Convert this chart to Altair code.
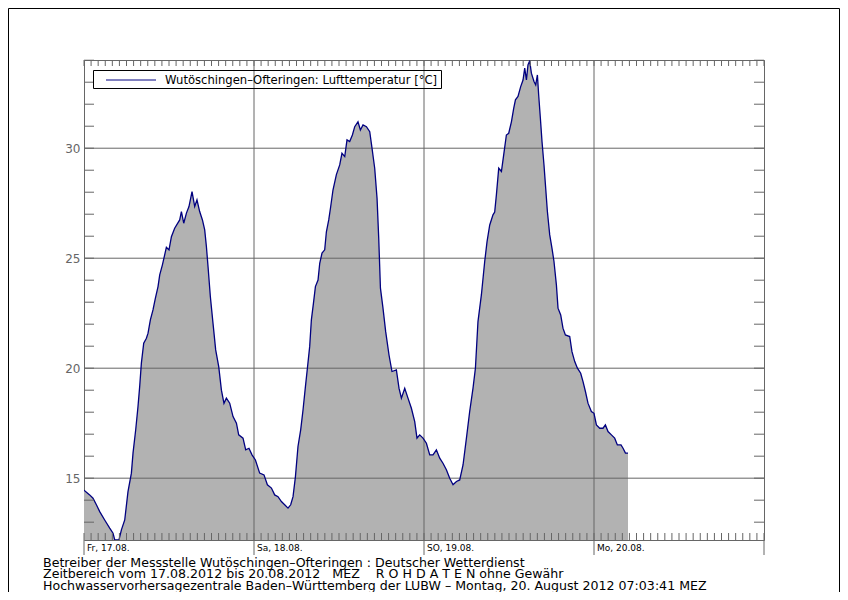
import altair as alt
import pandas as pd

# ---- data (hours since Fri 17.08.2012 00:00, air temperature in °C) ----
hours = [0.00, 0.80, 1.27, 1.75, 2.22, 2.92, 3.63, 4.10, 4.33, 4.94, 5.28, 5.75, 6.21, 6.69,
         6.92, 7.30, 7.62, 7.86, 8.10, 8.43, 8.81, 9.04, 9.37, 9.74, 10.08, 10.45, 10.69,
         11.07, 11.39, 11.63, 12.00, 12.34, 12.80, 13.51, 13.75, 14.08, 14.46, 14.82, 15.25,
         15.63, 15.95, 16.33, 16.72, 17.04, 17.28, 17.51, 17.84, 18.21, 18.59, 19.02, 19.40,
         19.76, 20.10, 20.57, 21.04, 21.52, 21.84, 22.45, 22.83, 23.29, 23.72, 24.20, 24.80,
         25.41, 25.89, 26.46, 26.92, 27.39, 27.87, 28.33, 28.80, 29.18, 29.51, 29.85, 30.21,
         30.59, 30.92, 31.26, 31.54, 31.86, 32.10, 32.39, 32.67, 33.04, 33.28, 33.60, 33.98,
         34.22, 34.55, 34.83, 35.15, 35.63, 36.10, 36.42, 36.81, 37.13, 37.51, 37.89, 38.22,
         38.68, 39.02, 39.39, 39.87, 40.34, 40.66, 41.04, 41.37, 41.61, 41.85, 42.21, 42.59,
         43.06, 43.48, 44.10, 44.47, 44.81, 45.28, 45.74, 46.22, 46.69, 47.01, 47.39, 47.86,
         48.34, 48.81, 49.27, 49.75, 50.22, 50.68, 51.16, 51.63, 52.10, 52.58, 53.04, 53.51,
         53.99, 54.45, 54.92, 55.26, 55.62, 56.10, 56.57, 56.90, 57.28, 57.74, 57.98, 58.22,
         58.55, 58.93, 59.25, 59.63, 59.96, 60.34, 60.67, 60.91, 61.27, 61.65, 61.98, 62.22,
         62.46, 62.68, 62.92, 63.16, 63.53, 63.77, 64.01, 64.19, 64.43, 64.66, 64.94, 65.18,
         65.42, 65.75, 66.07, 66.35, 66.69, 66.92, 67.30, 67.62, 67.96, 68.57, 68.89, 69.28,
         69.66, 70.12, 70.45, 70.79, 71.15, 71.63, 72.00, 72.34, 72.81, 73.27, 73.61, 73.98,
         74.46, 74.92, 75.30, 75.81, 76.10, 76.44, 76.80]
temps = [14.45, 14.24, 14.09, 13.79, 13.48, 13.10, 12.73, 12.50, 12.20, 12.20, 12.65, 13.10,
         14.39, 15.23, 16.14, 17.20, 18.25, 19.16, 20.23, 21.14, 21.36, 21.59, 22.20, 22.65,
         23.18, 23.71, 24.24, 24.70, 25.15, 25.50, 25.38, 25.98, 26.36, 26.74, 27.12, 26.59,
         27.05, 27.35, 28.03, 27.35, 27.65, 27.12, 26.74, 26.29, 25.53, 24.62, 23.25, 22.05,
         20.83, 20.07, 19.00, 18.40, 18.64, 18.41, 17.80, 17.50, 16.97, 16.82, 16.29, 16.36,
         16.06, 15.83, 15.23, 15.15, 14.70, 14.55, 14.24, 14.16, 13.94, 13.79, 13.64, 13.79,
         14.16, 15.07, 16.44, 17.20, 18.10, 19.16, 20.00, 20.98, 22.20, 22.95, 23.71, 24.01,
         24.77, 25.23, 25.38, 26.20, 26.74, 27.35, 28.10, 28.80, 29.24, 29.77, 29.62, 30.38,
         30.30, 30.60, 30.98, 31.20, 30.83, 31.06, 30.98, 30.75, 30.00, 29.09, 27.73, 25.90,
         23.64, 22.73, 21.66, 20.60, 19.85, 19.92, 19.09, 18.64, 19.09, 18.64, 18.18, 17.57,
         16.82, 16.97, 16.82, 16.59, 16.06, 16.06, 16.29, 15.91, 15.68, 15.38, 15.00, 14.70,
         14.85, 14.92, 15.60, 16.82, 18.03, 19.09, 20.00, 22.12, 23.33, 24.85, 25.75, 26.51,
         26.97, 27.10, 27.88, 29.09, 28.94, 29.70, 30.60, 30.68, 31.20, 31.82, 32.20, 32.35,
         32.80, 33.10, 33.64, 33.10, 33.79, 33.97, 33.41, 33.03, 32.88, 33.33, 32.42, 31.36,
         30.30, 29.24, 28.18, 27.12, 26.06, 25.45, 24.85, 23.79, 22.73, 22.42, 21.82, 21.51,
         21.44, 20.75, 20.30, 20.00, 19.77, 19.39, 18.94, 18.41, 18.03, 17.95, 17.42, 17.27,
         17.27, 17.42, 17.12, 16.97, 16.82, 16.51, 16.51, 16.36, 16.14, 16.14]

series_name = "Wutöschingen–Ofteringen: Lufttemperatur [°C]"
day_starts = [0, 24, 48, 72]
day_labels = ["Fr, 17.08.", "Sa, 18.08.", "SO, 19.08.", "Mo, 20.08."]
day_bounds = [0, 24, 48, 72, 96]
y_labels = [15, 20, 25, 30]
y_minor = list(range(13, 35))
hour_ticks = list(range(0, 97))
footer_lines = [
    "Betreiber der Messstelle Wutöschingen–Ofteringen : Deutscher Wetterdienst",
    "Zeitbereich vom 17.08.2012 bis 20.08.2012\u00a0\u00a0\u00a0MEZ\u00a0\u00a0\u00a0\u00a0R O H D A T E N ohne Gewähr",
    "Hochwasservorhersagezentrale Baden–Württemberg der LUBW – Montag, 20. August 2012 07:03:41 MEZ",
]

FONT = "DejaVu Sans"
GRID = "#666666"

df = pd.DataFrame({"h": hours, "t": temps})
X = alt.Scale(domain=[0, 96], nice=False, zero=False)
Y = alt.Scale(domain=[12.19, 34.01], nice=False, zero=False)

area = alt.Chart(df).mark_area(color="#b2b2b2", clip=True).encode(
    x=alt.X("h:Q", scale=X, axis=None),
    y=alt.Y("t:Q", scale=Y, axis=alt.Axis(values=y_labels, ticks=False, domain=False, grid=False,
                                          labelColor="#666666", labelFontSize=12, labelFont=FONT,
                                          labelPadding=4, title=None)),
)

hgrid = alt.Chart(pd.DataFrame({"v": y_labels})).mark_rule(color=GRID, strokeWidth=1).encode(
    y=alt.Y("v:Q", scale=Y))
vgrid = alt.Chart(pd.DataFrame({"d": day_starts[1:]})).mark_rule(color=GRID, strokeWidth=1).encode(
    x=alt.X("d:Q", scale=X))

line = alt.Chart(df).mark_line(strokeWidth=1.3, clip=True, color="#000080").encode(
    x=alt.X("h:Q", scale=X),
    y=alt.Y("t:Q", scale=Y),
)

hticks = pd.DataFrame({"h": hour_ticks})
top_ticks = alt.Chart(hticks).mark_rule(color=GRID).encode(
    x=alt.X("h:Q", scale=X), y=alt.value(0), y2=alt.value(6))
bot_ticks = alt.Chart(hticks).mark_rule(color=GRID).encode(
    x=alt.X("h:Q", scale=X), y=alt.value(473), y2=alt.value(480))
yticks = pd.DataFrame({"v": y_minor})
left_ticks = alt.Chart(yticks).mark_rule(color=GRID).encode(
    y=alt.Y("v:Q", scale=Y), x=alt.value(0), x2=alt.value(10))
right_ticks = alt.Chart(yticks).mark_rule(color=GRID).encode(
    y=alt.Y("v:Q", scale=Y), x=alt.value(670), x2=alt.value(680))

separators = alt.Chart(pd.DataFrame({"d": day_bounds})).mark_rule(color=GRID).encode(
    x=alt.X("d:Q", scale=X), y=alt.value(480), y2=alt.value(495))
day_text = alt.Chart(pd.DataFrame({"d": day_starts, "l": day_labels})).mark_text(
    align="left", baseline="alphabetic", font=FONT, fontSize=9, color="black", dx=3).encode(
    x=alt.X("d:Q", scale=X), y=alt.value(491), text="l:N")

# legend box (drawn by hand to match the reference's compact frame)
one = pd.DataFrame({"a": [0]})
legend_box = alt.Chart(one).mark_rect(fill=None, stroke="black", strokeWidth=1).encode(
    x=alt.value(9.5), x2=alt.value(357.5), y=alt.value(10.5), y2=alt.value(28.5))
legend_line = alt.Chart(one).mark_rule(color="#000080", strokeWidth=1).encode(
    x=alt.value(22), x2=alt.value(72), y=alt.value(20))
legend_text = alt.Chart(one).mark_text(
    align="left", baseline="alphabetic", font=FONT, fontSize=11.6, color="black").encode(
    x=alt.value(81), y=alt.value(24), text=alt.value(series_name))

footer_y = [506.5, 518, 529.5]
footer = []
for txt, fy in zip(footer_lines, footer_y):
    footer.append(alt.Chart(one).mark_text(
        align="left", baseline="alphabetic", font=FONT, fontSize=12.6, color="black").encode(
        x=alt.value(-41), y=alt.value(fy), text=alt.value(txt)))

# outer frame of the picture (top, left, right edges)
frame_top = alt.Chart(one).mark_rule(color="black").encode(
    x=alt.value(-75.5), x2=alt.value(755.5), y=alt.value(-51.5))
frame_left = alt.Chart(one).mark_rule(color="black").encode(
    x=alt.value(-75.5), y=alt.value(-51.5), y2=alt.value(532))
frame_right = alt.Chart(one).mark_rule(color="black").encode(
    x=alt.value(755.5), y=alt.value(-51.5), y2=alt.value(532))

chart = alt.layer(
    area, hgrid, vgrid, line, top_ticks, bot_ticks, left_ticks, right_ticks,
    separators, day_text, legend_box, legend_line, legend_text, *footer,
    frame_top, frame_left, frame_right
).properties(
    width=680, height=480,
    autosize=alt.AutoSizeParams(type="none"),
    padding={"left": 76, "top": 52, "right": 76, "bottom": 52},
    background="white",
).configure_view(stroke=GRID, strokeWidth=1)

chart.save("out.html", embed_options={"renderer": "svg", "actions": False})
